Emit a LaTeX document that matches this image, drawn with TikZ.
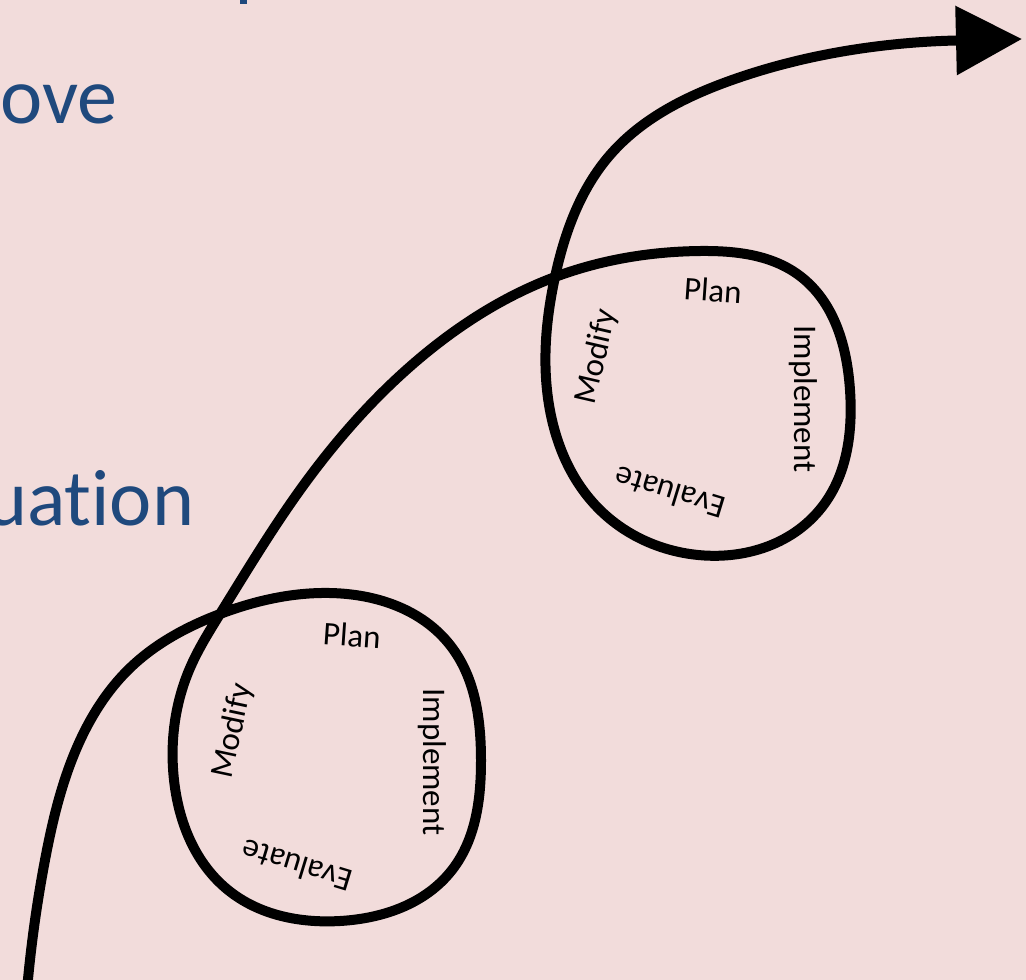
\documentclass[tikz,border=0pt]{standalone}
\usepackage{fontspec}
\setmainfont{Carlito}[Ligatures={NoCommon}]
\usetikzlibrary{arrows.meta,hobby}
\definecolor{bg}{HTML}{F2DCDB}
\definecolor{txtblue}{HTML}{1F497D}
\begin{document}
\begin{tikzpicture}[x=1pt,y=-1pt,
  lab/.style={font=\fontsize{33}{40}\selectfont, inner sep=0pt, text=black},
  big/.style={font=\fontsize{80}{96}\selectfont, inner sep=0pt, text=txtblue, anchor=base west},
  spiral/.style={line width=10pt, black, line cap=butt, line join=round}]
\useasboundingbox (0,0) rectangle (1026,980);
\clip (0,0) rectangle (1026,980);
\fill[bg] (0,0) rectangle (1026,980);
% partial texts
\node[big] (ove) at (0,123) {ove};
\node[big] (uation) at (-15,525) {uat\kern0pt ion};
\fill[txtblue] (240,0) rectangle (247,4);
% spiral
\coordinate (start) at (27,990);
\coordinate (neck) at (956,40.5);
\coordinate (tip) at (1022,39);
\draw[spiral, use Hobby shortcut] (start) .. (45,860) .. (75,752) .. (130,668) .. (220,614)
  .. (330,593) .. (450,645) .. (481,760) .. (452,870) .. (340,921) .. (228,890)
  .. (174,780) .. (190,668) .. (220,614)
  .. (300,490) .. (420,358) .. (555,277)
  .. (700,251) .. (800,276) .. (850,390) .. (822,507) .. (690,554) .. (598,508)
  .. (547,390) .. (555,277)
  .. (610,155) .. (732,80) .. (880,46) .. (neck);
\draw[spiral, -{Triangle[length=66pt,width=67pt]}] (neck) -- (tip);
% loop 1 labels
\node[lab, rotate=-4] (plan1) at (352,635) {Plan};
\node[lab, rotate=-90] (impl1) at (432,762) {Implement};
\node[lab, rotate=163] (eval1) at (297,866) {Evaluate};
\node[lab, rotate=78] (mod1) at (233,731) {Modify};
% loop 2 labels
\node[lab, rotate=-4] (plan2) at (713,290) {Plan};
\node[lab, rotate=-90] (impl2) at (803,399) {Implement};
\node[lab, rotate=163] (eval2) at (670,493) {Evaluate};
\node[lab, rotate=77] (mod2) at (597,357) {Modify};
\end{tikzpicture}
\end{document}
